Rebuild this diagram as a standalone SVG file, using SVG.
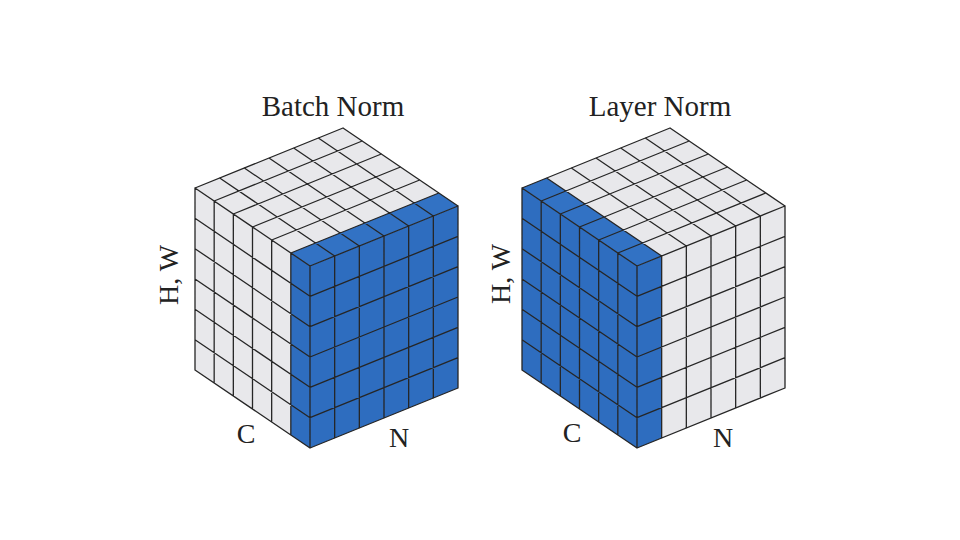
<svg xmlns="http://www.w3.org/2000/svg" width="960" height="540" viewBox="0 0 960 540">
  <style>
    .bg { fill: #ffffff; }
    .gray { fill: #e8e8eb; }
    .blue { fill: #2e6dbf; }
    .bluetop { fill: #3272c4; }
    .grid { fill: none; stroke: #262626; stroke-width: 1.3; stroke-linejoin: round; stroke-linecap: round; }
    .lbl { font-family: "Liberation Serif", "Times New Roman", serif; fill: #222222; }
    .title { font-size: 29px; text-anchor: middle; }
    .axis { font-size: 28px; text-anchor: middle; }
  </style>
  <defs>
    <path id="cube-grid" d="M195 188V370M214.17 201V383M233.33 214V396M252.5 227V409M271.67 240V422M290.83 253V435M310 266V448M195 218.33L310 296.33M195 248.67L310 326.67M195 279L310 357M195 309.33L310 387.33M195 339.67L310 417.67M195 370L310 448M334.67 256V438M359.33 246V428M384 236V418M408.67 226V408M433.33 216V398M458 206V388M310 296.33L458 236.33M310 326.67L458 266.67M310 357L458 297M310 387.33L458 327.33M310 417.67L458 357.67M310 448L458 388M195 188L343 128M214.17 201L362.17 141M233.33 214L381.33 154M252.5 227L400.5 167M271.67 240L419.67 180M290.83 253L438.83 193M310 266L458 206M195 188L310 266M219.67 178L334.67 256M244.33 168L359.33 246M269 158L384 236M293.67 148L408.67 226M318.33 138L433.33 216M343 128L458 206"/>
  </defs>
  <rect class="bg" x="0" y="0" width="960" height="540"/>

  <g id="batch-norm">
    <polygon class="gray" points="195,188 310,266 310,448 195,370"/>
    <polygon class="blue" points="290.83,253 310,266 310,448 290.83,435"/>
    <polygon class="blue" points="310,266 458,206 458,388 310,448"/>
    <polygon class="gray" points="195,188 343,128 458,206 310,266"/>
    <polygon class="bluetop" points="290.83,253 438.83,193 458,206 310,266"/>
    <use href="#cube-grid" class="grid"/>
    <text class="lbl title" x="333" y="116">Batch Norm</text>
    <text class="lbl axis" transform="translate(178 275) rotate(-90)">H, W</text>
    <text class="lbl axis" x="246" y="443">C</text>
    <text class="lbl axis" x="399" y="447">N</text>
  </g>

  <g id="layer-norm">
    <g transform="translate(327 0)">
      <polygon class="blue" points="195,188 310,266 310,448 195,370"/>
      <polygon class="gray" points="310,266 458,206 458,388 310,448"/>
      <polygon class="blue" points="310,266 334.67,256 334.67,438 310,448"/>
      <polygon class="gray" points="195,188 343,128 458,206 310,266"/>
      <polygon class="bluetop" points="195,188 219.67,178 334.67,256 310,266"/>
      <use href="#cube-grid" class="grid"/>
    </g>
    <text class="lbl title" x="660" y="116">Layer Norm</text>
    <text class="lbl axis" transform="translate(510 274) rotate(-90)">H, W</text>
    <text class="lbl axis" x="572" y="442">C</text>
    <text class="lbl axis" x="723" y="447">N</text>
  </g>
</svg>
